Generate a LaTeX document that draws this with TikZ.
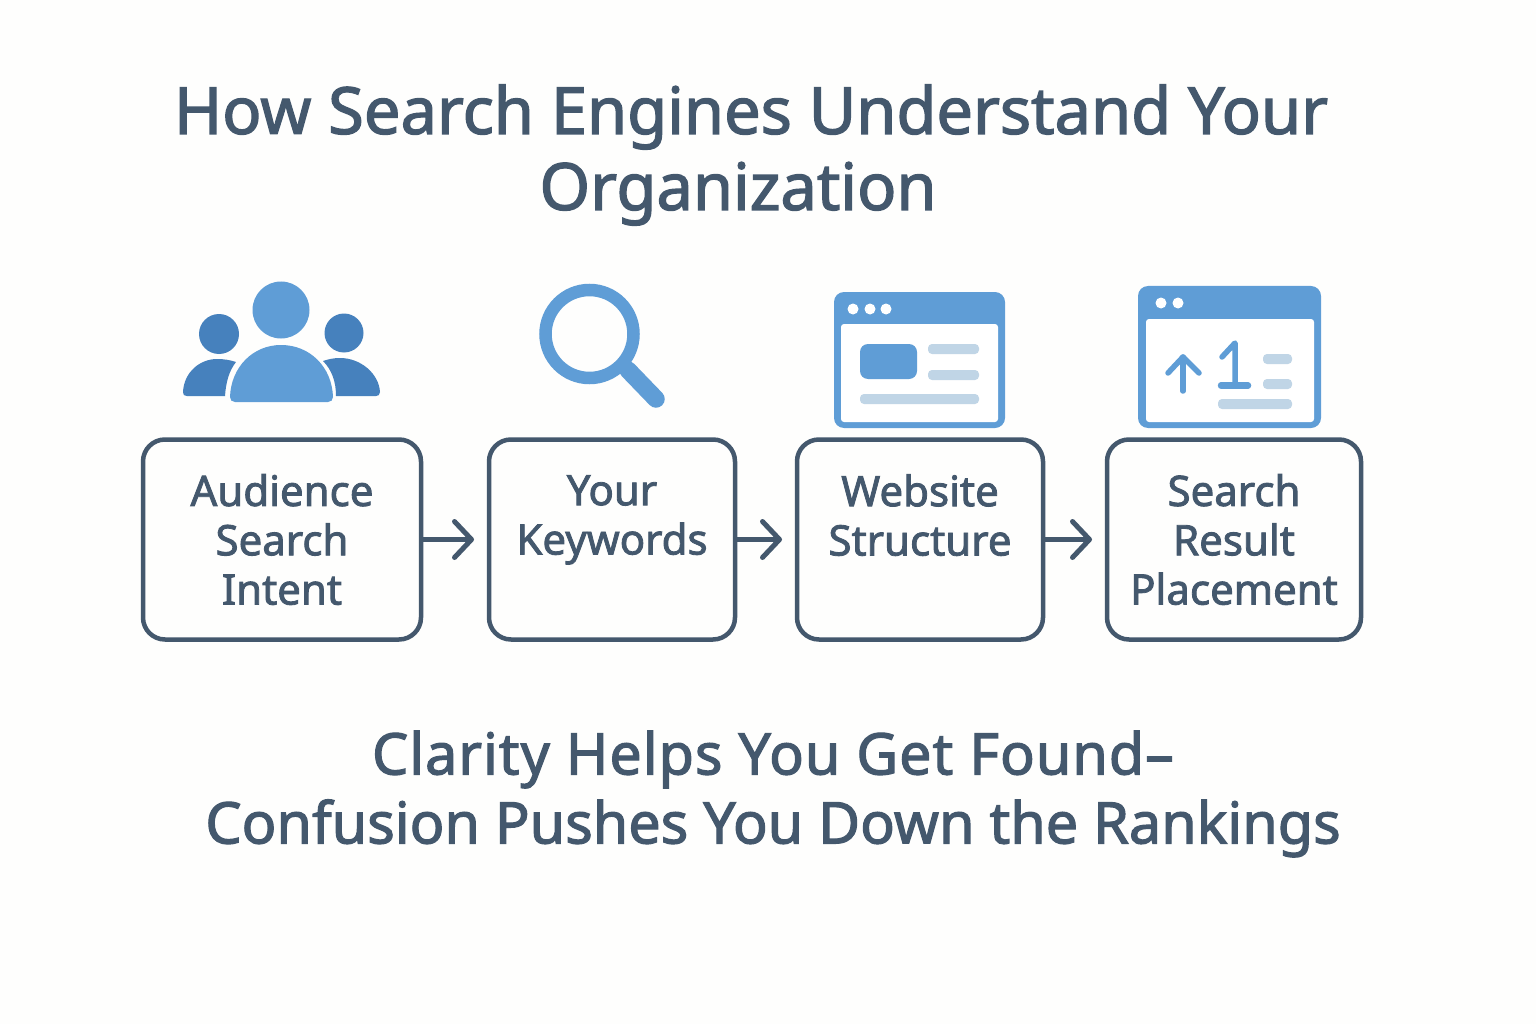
\documentclass[tikz,border=0pt]{standalone}
\usepackage{fontspec}
\setmainfont[RawFeature={embolden=2}]{Noto Sans}
\usetikzlibrary{positioning, arrows.meta}
\definecolor{slate}{HTML}{44586D}
\definecolor{iconblue}{HTML}{5F9DD6}
\definecolor{icondark}{HTML}{4681BD}
\definecolor{iconpale}{HTML}{C0D5E6}
\definecolor{paper}{HTML}{FEFEFD}

\begin{document}
\begin{tikzpicture}[
  x=1pt, y=-1pt,
  box/.style={rectangle, draw=slate, line width=4.5pt, rounded corners=22pt, outer sep=0pt, inner sep=0pt,
    minimum height=200pt, align=center, text=slate, font=\fontsize{42}{49.3}\selectfont},
  headline/.style={text=slate, align=center, inner sep=0pt},
  arrow/.style={-{Straight Barb[length=17pt, width=36pt, round, line width=5pt]}, line width=4.5pt, draw=slate, shorten >=15pt},
  pale/.style={fill=iconpale, rounded corners=4pt},
  dot/.style={fill=white},
  thinline/.style={draw=iconblue, line width=5.5pt, line cap=round, line join=round}
]
  \useasboundingbox[fill=paper] (0,0) rectangle (1536,1024);

  % Title
  \node[headline, font=\fontsize{65}{76}\selectfont] (title) at (751,155)
    {How Search Engines Understand Your\\Organization\hspace*{26pt}};

  % Boxes
  \node[box, minimum width=278pt] (audience) at (282,539.5) {Audience\\Search\\Intent};
  \node[box, minimum width=246pt, right=68pt of audience] (keywords) {Your\\Keywords\\~};
  \node[box, minimum width=246pt, right=62pt of keywords] (website) {Website\\Structure\\~};
  \node[box, minimum width=254pt, right=64pt of website] (placement) {Search\\Result\\Placement};

  % Arrows
  \draw[arrow] (audience) -- (keywords);
  \draw[arrow] (keywords) -- (website);
  \draw[arrow] (website) -- (placement);

  % Bottom line
  \node[headline, font=\fontsize{57.5}{69}\selectfont] (closing) at (773,794)
    {\addfontfeatures{LetterSpace=1.7}Clarity Helps You Get Found–\\Confusion Pushes You Down the Rankings};

  % People icon
  \fill[icondark] (219,334) circle (20);
  \fill[icondark] (344,333) circle (19.5);
  \fill[icondark] (183,392) .. controls (184,372) and (200,359) .. (217,359)
    .. controls (224,359) and (230,360) .. (236,362)
    .. controls (229,371) and (226,382) .. (225,396) -- (187,396)
    .. controls (184,396) and (183,395) .. (183,392) -- cycle;
  \fill[icondark] (323,361) .. controls (329,359) and (334,358) .. (340,358)
    .. controls (361,358) and (379,374) .. (380,392)
    .. controls (380,395) and (378,396) .. (376,396) -- (336,396)
    .. controls (336,382) and (332,370) .. (323,361) -- cycle;
  \fill[iconblue] (281,310) circle (28.5);
  \fill[iconblue] (230,397) .. controls (231,367) and (253,345) .. (281,345)
    .. controls (310,345) and (332,367) .. (333,397)
    .. controls (333,400) and (331,402) .. (328,402) -- (235,402)
    .. controls (232,402) and (230,400) .. (230,397) -- cycle;

  % Magnifier icon
  \draw[iconblue, line width=12.5pt] (589.5,334) circle (44);
  \draw[iconblue, line width=17.5pt, line cap=round] (628,370) -- (656,399);

  % Browser icon with text lines
  \fill[iconblue] (834,292) [rounded corners=10pt] rectangle (1005,428);
  \fill[white] (841,324) [rounded corners=3pt] -- (998,324) -- (998,422) -- (841,422) -- cycle;
  \foreach \dotx in {853,870,886} \fill[dot] (\dotx,309) circle (5.5);
  \fill[iconblue, rounded corners=8pt] (860,344) rectangle (917,379);
  \fill[pale] (928,344) rectangle (979,354);
  \fill[pale] (928,370) rectangle (979,380);
  \fill[pale] (860,394) rectangle (979,404);

  % Browser icon with ranking
  \fill[iconblue] (1138,286) [rounded corners=10pt] rectangle (1321,428);
  \fill[white] (1146,319) [rounded corners=3pt] -- (1314,319) -- (1314,422) -- (1146,422) -- cycle;
  \foreach \dotx in {1161,1178} \fill[dot] (\dotx,303) circle (5.5);
  \draw[thinline] (1183,391) -- (1183,357);
  \draw[thinline] (1168,373) -- (1183,357) -- (1199,373);
  \draw[thinline] (1222,357) -- (1235,343) -- (1235,385);
  \draw[thinline, line width=6.5pt] (1221,385.5) -- (1248,385.5);
  \fill[pale] (1263,354) rectangle (1292,364);
  \fill[pale] (1263,379) rectangle (1292,389);
  \fill[pale] (1218,399) rectangle (1292,409);
\end{tikzpicture}
\end{document}
